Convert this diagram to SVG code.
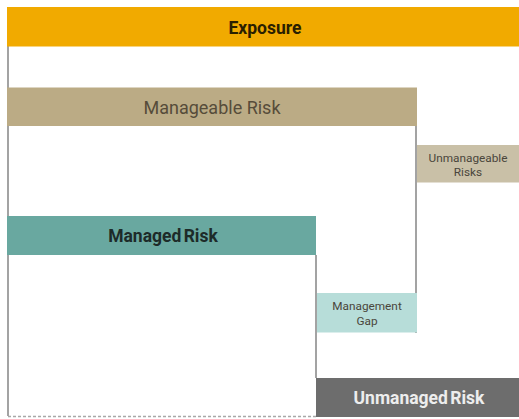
<svg xmlns="http://www.w3.org/2000/svg" width="519" height="419" viewBox="0 0 519 419">
<style>
.lbl{font-family:Roboto,"Liberation Sans",sans-serif;text-anchor:middle;dominant-baseline:central}
.big{font-size:17.5px;font-weight:bold}
.small{font-size:11.8px;fill:#4a463c}
.line{stroke:#a3a3a3;stroke-width:2;fill:none}
</style>
<rect width="519" height="419" fill="#ffffff"/>
<g id="connectors">
<path class="line" d="M8 46 V416"/>
<path class="line" d="M416 126 V333"/>
<path class="line" d="M316 255 V378"/>
<path d="M8 416.5 H316" stroke="#a8a8a8" stroke-width="1.5" stroke-dasharray="3,2" fill="none"/>
</g>
<g id="exposure">
<rect x="7" y="7" width="512" height="39.5" fill="#f1aa00"/>
<text class="lbl big" x="265" y="27.5" fill="#2a2000">Exposure</text>
</g>
<g id="manageable-risk">
<rect x="7" y="87.5" width="410" height="38.5" fill="#bbab85"/>
<text class="lbl" x="212" y="107.5" font-size="18" fill="#564c3a">Manageable Risk</text>
</g>
<g id="unmanageable-risks">
<rect x="417" y="145" width="102" height="37.5" fill="#c9c0a7"/>
<text class="lbl small" x="468" y="158" font-size="12">Unmanageable</text>
<text class="lbl small" x="468" y="172">Risks</text>
</g>
<g id="managed-risk">
<rect x="7" y="216" width="309" height="39" fill="#69a8a0"/>
<text class="lbl big" x="163" y="236" fill="#1d2b29" word-spacing="-2">Managed Risk</text>
</g>
<g id="management-gap">
<rect x="317" y="293" width="100" height="39.5" fill="#b7ddd9"/>
<text class="lbl small" x="367" y="306" font-size="11.5">Management</text>
<text class="lbl small" x="367" y="321" font-size="11.5">Gap</text>
</g>
<g id="unmanaged-risk">
<rect x="316" y="378" width="203" height="39" fill="#6d6d6d"/>
<text class="lbl big" x="419" y="398" fill="#ededed" font-size="18.5" word-spacing="-2">Unmanaged Risk</text>
</g>
</svg>
